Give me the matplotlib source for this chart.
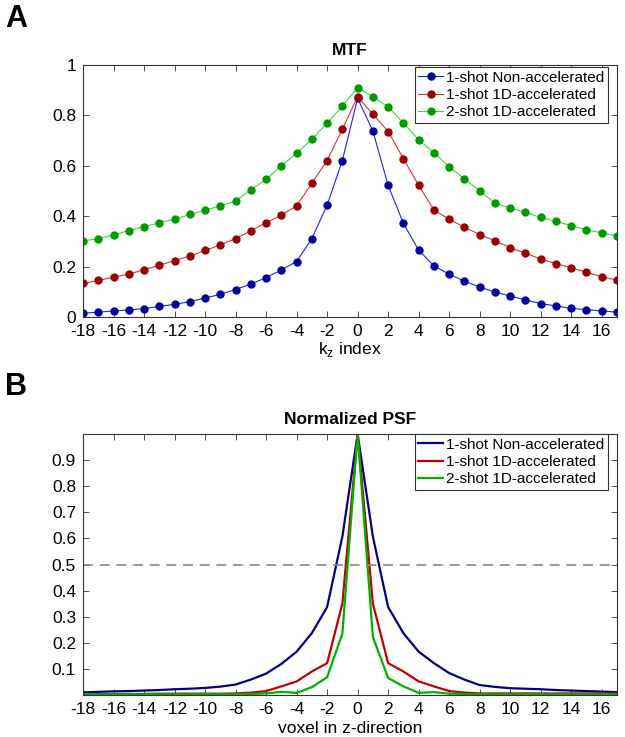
import matplotlib
matplotlib.use('Agg')
import matplotlib.pyplot as plt
import numpy as np

plt.rcParams['font.family'] = ['Liberation Sans', 'DejaVu Sans']
plt.rcParams['axes.unicode_minus'] = False

# kz / voxel index
kz = list(range(-18, 18))

labels = ['1-shot Non-accelerated', '1-shot 1D-accelerated', '2-shot 1D-accelerated']

# MTF values (panel A)
mtf_non = [0.015, 0.019, 0.024, 0.028, 0.033, 0.042, 0.050, 0.061, 0.075, 0.090,
           0.109, 0.131, 0.156, 0.187, 0.220, 0.311, 0.444, 0.621, 0.868, 0.738,
           0.522, 0.372, 0.265, 0.203, 0.170, 0.142, 0.119, 0.099, 0.083, 0.068,
           0.053, 0.044, 0.034, 0.029, 0.024, 0.019]
mtf_1d = [0.133, 0.145, 0.158, 0.170, 0.188, 0.205, 0.224, 0.242, 0.264, 0.286,
          0.311, 0.342, 0.374, 0.404, 0.441, 0.531, 0.621, 0.746, 0.874, 0.805,
          0.736, 0.628, 0.523, 0.424, 0.388, 0.356, 0.327, 0.302, 0.275, 0.253,
          0.230, 0.212, 0.195, 0.177, 0.160, 0.146]
mtf_2s = [0.302, 0.311, 0.325, 0.343, 0.358, 0.374, 0.388, 0.407, 0.423, 0.441,
          0.460, 0.505, 0.546, 0.600, 0.649, 0.707, 0.768, 0.838, 0.910, 0.873,
          0.834, 0.770, 0.703, 0.652, 0.596, 0.548, 0.501, 0.452, 0.432, 0.415,
          0.395, 0.379, 0.363, 0.346, 0.334, 0.322]

# normalized PSF values (panel B)
psf_non = [0.010, 0.012, 0.014, 0.015, 0.017, 0.019, 0.022, 0.024, 0.027, 0.032,
           0.040, 0.059, 0.082, 0.119, 0.166, 0.237, 0.337, 0.607, 1.000, 0.607,
           0.337, 0.237, 0.166, 0.122, 0.084, 0.059, 0.038, 0.031, 0.026, 0.024,
           0.022, 0.019, 0.017, 0.015, 0.013, 0.011]
psf_1d = [0.004, 0.004, 0.004, 0.004, 0.004, 0.005, 0.005, 0.005, 0.005, 0.005,
          0.006, 0.009, 0.015, 0.033, 0.052, 0.090, 0.122, 0.350, 1.000, 0.350,
          0.122, 0.090, 0.052, 0.033, 0.015, 0.009, 0.006, 0.006, 0.006, 0.006,
          0.006, 0.006, 0.006, 0.006, 0.006, 0.006]
psf_2s = [0.003, 0.003, 0.003, 0.003, 0.003, 0.003, 0.003, 0.003, 0.003, 0.003,
          0.003, 0.004, 0.006, 0.012, 0.008, 0.030, 0.068, 0.235, 1.000, 0.222,
          0.065, 0.033, 0.008, 0.011, 0.005, 0.004, 0.003, 0.003, 0.003, 0.003,
          0.003, 0.003, 0.003, 0.003, 0.003, 0.003]

fs = 12.5

fig = plt.figure(figsize=(6.25, 7.37), dpi=100)

def style_axes(ax):
    ax.set_xlim(-18, 17)
    ax.set_xticks(range(-18, 17, 2))
    ax.tick_params(direction='in', top=True, right=True, labelsize=fs,
                   length=4, width=0.6, color='#333333', pad=5)
    for s in ax.spines.values():
        s.set_linewidth(0.8)
        s.set_color('#333333')

def add_legend(ax, ytop):
    leg = ax.legend(loc='upper right', bbox_to_anchor=(0.983, ytop),
                    fontsize=11, frameon=True, fancybox=False, framealpha=1,
                    borderpad=0.25, handlelength=1.6, handletextpad=0.2,
                    labelspacing=0.2, borderaxespad=0)
    leg.get_frame().set_edgecolor('#333333')
    leg.get_frame().set_linewidth(0.8)

# Panel A
ax1 = fig.add_axes([0.1328, 0.5699, 0.8544, 0.3419])
line_cols = ['#2020ff', '#e03030', '#30e030']
mark_cols = ['#000099', '#990000', '#009900']
for y, lc, mc, lab in zip([mtf_non, mtf_1d, mtf_2s], line_cols, mark_cols, labels):
    ax1.plot(kz, y, '-o', color=lc, lw=0.8, markersize=5,
             markerfacecolor=mc, markeredgecolor=mc, label=lab)
style_axes(ax1)
ax1.set_ylim(0, 1)
ax1.set_yticks([0, 0.2, 0.4, 0.6, 0.8, 1])
ax1.set_yticklabels(['0', '0.2', '0.4', '0.6', '0.8', '1'])
ax1.set_title('MTF', fontsize=fs, fontweight='bold', pad=7)
ax1.set_xlabel('k$_\\mathregular{z}$ index', fontsize=fs, labelpad=1)
add_legend(ax1, 0.992)

# Panel B
ax2 = fig.add_axes([0.1328, 0.0570, 0.8544, 0.3541])
cols2 = ['#000080', '#c00000', '#00b000']
for y, c, lab in zip([psf_non, psf_1d, psf_2s], cols2, labels):
    ax2.plot(kz, y, '-', color=c, lw=1.6, label=lab)
ax2.axhline(0.5, color='#888888', ls='--', lw=1.2, dashes=(6, 4))
style_axes(ax2)
ax2.set_ylim(0, 1)
ax2.set_yticks(np.arange(0.1, 1.0, 0.1))
ax2.set_yticklabels(['%.1f' % v for v in np.arange(0.1, 1.0, 0.1)])
ax2.set_title('Normalized PSF', fontsize=fs, fontweight='bold', pad=7)
ax2.set_xlabel('voxel in z-direction', fontsize=fs, labelpad=3)
add_legend(ax2, 1.0)

fig.text(0.008, 0.974, 'A', fontsize=22, fontweight='bold', va='center', ha='left')
fig.text(0.008, 0.475, 'B', fontsize=22, fontweight='bold', va='center', ha='left')

fig.savefig('out.png', dpi=100)
